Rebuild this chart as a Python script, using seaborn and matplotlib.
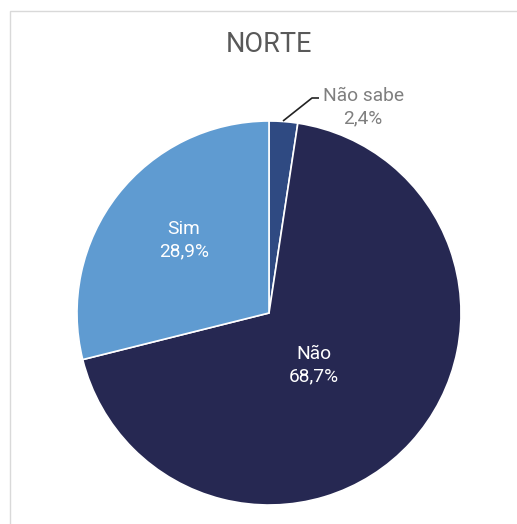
import matplotlib
matplotlib.use("Agg")
import matplotlib.pyplot as plt
import seaborn as sns
from matplotlib.patches import Rectangle

sns.set_theme(style="white")
plt.rcParams['font.family'] = ['Roboto', 'DejaVu Sans']

categories = ["Não sabe", "Não", "Sim"]
values = [2.4, 68.7, 28.9]
colors = ["#2F4A82", "#262852", "#5F9BD1"]
title = "NORTE"

fig = plt.figure(figsize=(5.17, 5.24), dpi=100)
ax = fig.add_axes([0, 0, 1, 1])
ax.axis("off")

wedges, _ = ax.pie(values, colors=colors, startangle=90, counterclock=False,
                   radius=1.0, center=(0, 0),
                   wedgeprops=dict(edgecolor="white", linewidth=1.2))
ax.set_xlim(-269/192, (517-269)/192)
ax.set_ylim(-211/192, (524-211)/192)
ax.set_aspect("auto")

def fmt(v):
    return f"{v:.1f}%".replace(".", ",")

# inside labels
ax.text(0.234, -0.27, f"{categories[1]}\n{fmt(values[1])}", color="white",
        ha="center", va="center", fontsize=13.8, linespacing=1.3)
ax.text(-0.443, 0.38, f"{categories[2]}\n{fmt(values[2])}", color="white",
        ha="center", va="center", fontsize=13.8, linespacing=1.3)
# outside label with leader
ax.plot([14/192, 43/192, 50/192], [(313-121)/192, (313-98)/192, (313-98)/192],
        color="#222222", lw=1.2, solid_capstyle="butt")
ax.text(0.49, 1.073, f"{categories[0]}\n{fmt(values[0])}", color="#7F7F7F",
        ha="center", va="center", fontsize=13.8, linespacing=1.3)

fig.text(269/517, 1 - 44/524, title, ha="center", va="center",
         fontsize=19.5, color="#595959")

# chart border (partially cropped)
fig.patches.append(Rectangle((9.5/517, -0.1), 1.2, (524-10.5)/524 + 0.1,
                             transform=fig.transFigure, fill=False,
                             edgecolor="#D9D9D9", lw=1.0))

fig.savefig("out.png", dpi=100)
